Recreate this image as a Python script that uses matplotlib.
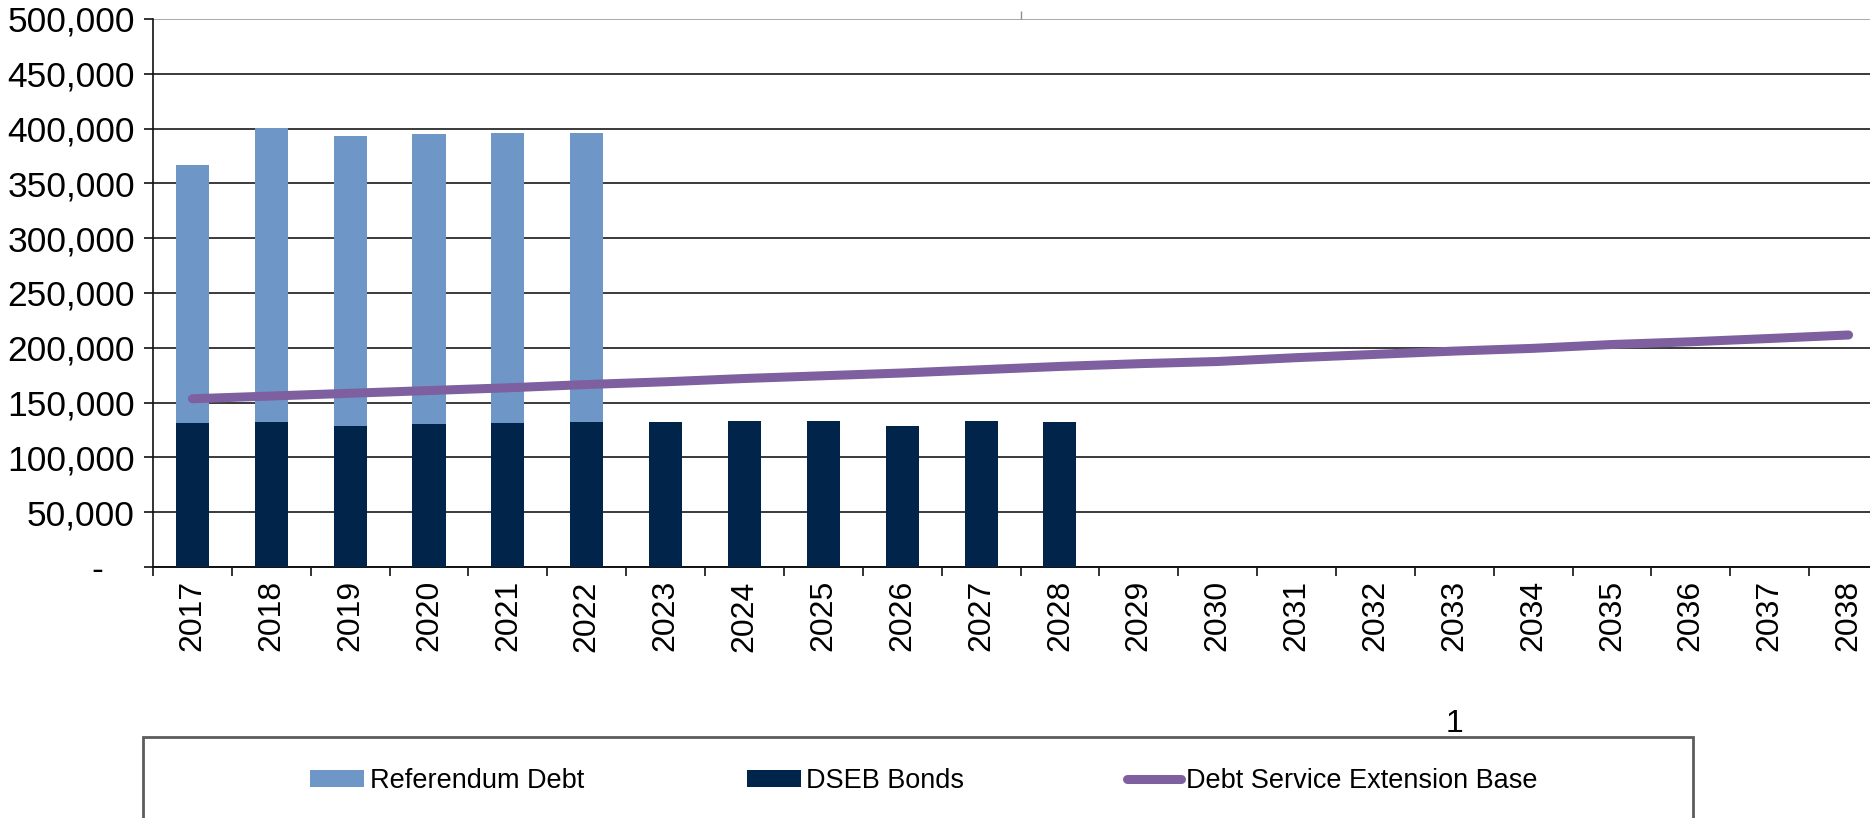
import matplotlib
matplotlib.use('Agg')
import matplotlib.pyplot as plt
import numpy as np
from matplotlib.patches import Patch, Rectangle
from matplotlib.lines import Line2D
from matplotlib.ticker import FuncFormatter
from matplotlib.transforms import ScaledTranslation

plt.rcParams['font.family'] = ['Liberation Sans', 'DejaVu Sans']

# ---------------- data ----------------
years = list(range(2017, 2039))
dseb_bonds = [131600, 132500, 129000, 130300, 131600, 132500,
              132500, 133400, 133400, 128800, 133400, 132100]
referendum_debt = [235400, 268500, 264000, 264700, 264800, 263900]
debt_service_ext_base = [153500, 156000, 158500, 161000, 163500, 166500,
                         169000, 172000, 174500, 177000, 180000, 183000,
                         185500, 187500, 191000, 194000, 197000, 199500,
                         203000, 205500, 208500, 211700]
labels = ['Referendum Debt', 'DSEB Bonds', 'Debt Service Extension Base']
axis_label = '1'

c_ref = '#6E97C8'
c_dseb = '#01244A'
c_line = '#7E60A0'

# ---------------- figure ----------------
W_PX, H_PX = 1870, 818
fig = plt.figure(figsize=(W_PX / 100, H_PX / 100), dpi=100)
left, right, top, bottom = 153, 1888, 19, 567
ax = fig.add_axes([left / W_PX, 1 - bottom / H_PX,
                   (right - left) / W_PX, (bottom - top) / H_PX])

x = np.arange(len(years))
width = 0.42
ax.bar(x[:len(dseb_bonds)], dseb_bonds, width, color=c_dseb, zorder=3)
ax.bar(x[:len(referendum_debt)], referendum_debt, width,
       bottom=dseb_bonds[:len(referendum_debt)], color=c_ref, zorder=3)
ax.plot(x, debt_service_ext_base, color=c_line, lw=6.5,
        solid_capstyle='round', zorder=4)

ax.set_xlim(-0.5, len(years) - 0.5)
ax.set_ylim(0, 500000)
ax.set_yticks(np.arange(0, 500001, 50000))
ax.yaxis.set_major_formatter(FuncFormatter(lambda v, p: '-' if v == 0 else f'{int(v):,}'))
ax.yaxis.grid(True, color='#3a3a3a', lw=1.4)
ax.set_axisbelow(True)
ax.get_ygridlines()[-1].set_color('#a8a8a8')

for s in ['top', 'right']:
    ax.spines[s].set_visible(False)
ax.spines['left'].set_color('#111111')
ax.spines['left'].set_linewidth(1.2)
ax.spines['bottom'].set_color('#111111')
ax.spines['bottom'].set_linewidth(1.4)

ax.set_xticks(x)
ax.set_xticklabels([str(y) for y in years], rotation=90, va='top')
ax.set_xticks(np.arange(-0.5, len(years), 1.0), minor=True)
ax.tick_params(axis='x', which='major', length=0, pad=9.5, labelsize=23)
ax.tick_params(axis='x', which='minor', length=6.5, width=1.2, color='#111111', direction='out')
ax.tick_params(axis='y', length=6.5, width=1.2, color='#111111', pad=6.5, labelsize=25.5)

# small tick on top (secondary axis)
ax2 = ax.twiny()
ax2.set_xlim(ax.get_xlim())
ax2.set_xticks([10.5])
ax2.set_xticklabels([''])
ax2.tick_params(axis='x', length=6, width=1, color='#909090', direction='out')
for s in ax2.spines.values():
    s.set_visible(False)

# axis label "1"
fig.text(1455 / W_PX, 1 - 724 / H_PX, axis_label, ha='center', va='center', fontsize=23)

# legend box
fig.patches.append(Rectangle((143 / W_PX, -0.1), (1693 - 143) / W_PX,
                             (H_PX - 737) / H_PX + 0.1, transform=fig.transFigure,
                             fill=False, edgecolor='#5c5c5c', lw=2))
handles = [Patch(facecolor=c_ref), Patch(facecolor=c_dseb),
           Line2D([0], [0], color=c_line, lw=6.5, solid_capstyle='round')]
fig.legend(handles, labels, loc='center', bbox_to_anchor=(924 / W_PX, 1 - 781 / H_PX),
           ncol=3, frameon=False, fontsize=19.5, handlelength=2.0, handleheight=0.55,
           handletextpad=0.2, columnspacing=6.0)

fig.canvas.draw()
zt = ax.yaxis.get_major_ticks()[0]
zt.label1.set_transform(zt.label1.get_transform() + ScaledTranslation(-0.32, 0, fig.dpi_scale_trans))

fig.savefig('out.png', dpi=100)
